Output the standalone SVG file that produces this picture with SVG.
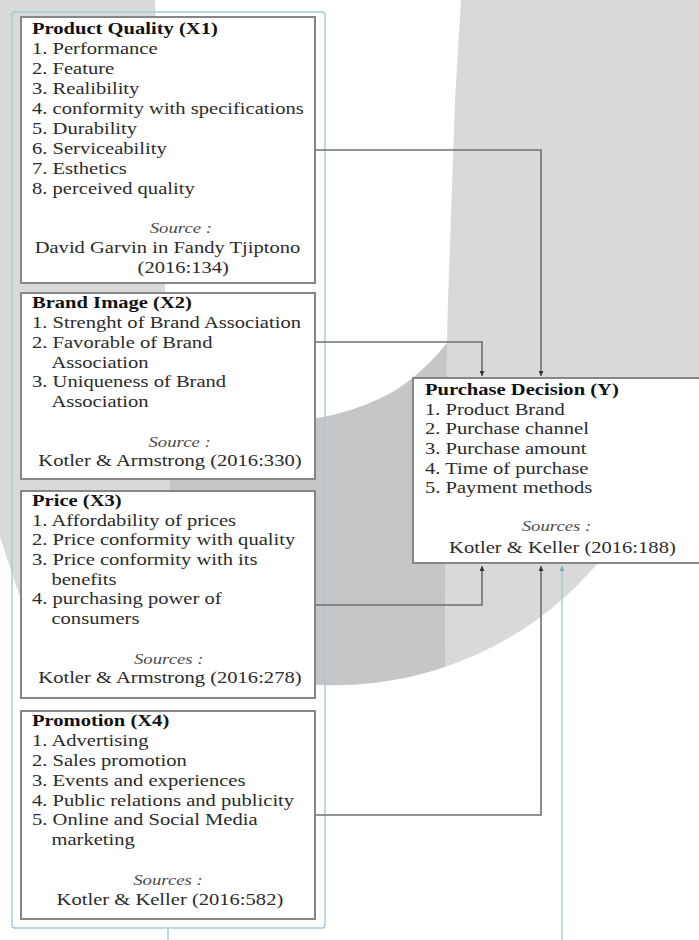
<svg xmlns="http://www.w3.org/2000/svg" width="699" height="940" viewBox="0 0 699 940">
<style>
.t{font-family:"Liberation Serif","Times New Roman",serif;font-size:17px;fill:#2b2b2b}
.h{font-weight:bold;fill:#111}
.s{font-style:italic;font-size:15.5px;fill:#4a4a4a;text-anchor:middle}
.c{text-anchor:middle}
.box{fill:#fff;stroke:#868686;stroke-width:2}
.conn{fill:none;stroke:#707070;stroke-width:1.6}
.blue{fill:none;stroke:#a4cbd5;stroke-width:1.4}
</style>
<defs>
<marker id="arr" viewBox="0 0 6 6" refX="6" refY="3" markerWidth="5" markerHeight="5" markerUnits="userSpaceOnUse" orient="auto">
<path d="M0,0 L6,3 L0,6 Z" fill="#333"/>
</marker>
<marker id="arrb" viewBox="0 0 6 6" refX="6" refY="3" markerWidth="5" markerHeight="5" markerUnits="userSpaceOnUse" orient="auto">
<path d="M0,0 L6,3 L0,6 Z" fill="#6fb0ae"/>
</marker>
</defs>
<rect width="699" height="940" fill="#fff"/>
<g id="watermark">
<path d="M0,0 H155 L165,290 L170,480 L170,680 L20,597 L0,537 Z" fill="#d9d9d9"/>
<path d="M461,0 H699 V563 H598 A350,350 0 0 1 445,667 L447,343 L448,300 L455,100 Z" fill="#d9d9d9"/>
<path d="M170,425 L317,418 Q350,413 383,397 T447,343 L445,667 A350,350 0 0 1 170,645 Z" fill="#c5c6c8"/>
</g>
<rect id="container" x="12" y="12" width="313" height="916" rx="3" class="blue"/>
<g id="connectors">
<path class="conn" d="M315,150 H541 V376" marker-end="url(#arr)"/>
<path class="conn" d="M315,342 H482 V376" marker-end="url(#arr)"/>
<path class="conn" d="M315,605 H482 V566" marker-end="url(#arr)"/>
<path class="conn" d="M315,815 H541 V566" marker-end="url(#arr)"/>
<path class="blue" d="M562,940 V566" marker-end="url(#arrb)"/>
<path class="blue" d="M168,928 V940"/>
</g>
<g id="x1">
<rect class="box" x="21" y="17" width="294" height="266"/>
<g transform="translate(32,0) scale(1.21,1)">
<text class="t h" x="0" y="34.5">Product Quality (X1)</text>
<text class="t" x="0" y="54.4">1. Performance</text>
<text class="t" x="0" y="74.3">2. Feature</text>
<text class="t" x="0" y="94.2">3. Realibility</text>
<text class="t" x="0" y="114.1">4. conformity with specifications</text>
<text class="t" x="0" y="134">5. Durability</text>
<text class="t" x="0" y="153.9">6. Serviceability</text>
<text class="t" x="0" y="173.8">7. Esthetics</text>
<text class="t" x="0" y="193.7">8. perceived quality</text>
<text class="t s" x="123" y="233.5">Source :</text>
<text class="t c" x="112" y="253.4">David Garvin in Fandy Tjiptono</text>
<text class="t c" x="125" y="273.3">(2016:134)</text>
</g>
</g>
<g id="x2">
<rect class="box" x="21" y="293" width="294" height="186"/>
<g transform="translate(32,0) scale(1.21,1)">
<text class="t h" x="0" y="308.5">Brand Image (X2)</text>
<text class="t" x="0" y="328.2">1. Strenght of Brand Association</text>
<text class="t" x="0" y="348">2. Favorable of Brand</text>
<text class="t" x="16.1" y="367.7">Association</text>
<text class="t" x="0" y="387.5">3. Uniqueness of Brand</text>
<text class="t" x="16.1" y="407.2">Association</text>
<text class="t s" x="122" y="446.7">Source :</text>
<text class="t c" x="114" y="466.5">Kotler &amp; Armstrong (2016:330)</text>
</g>
</g>
<g id="x3">
<rect class="box" x="21" y="491" width="294" height="207"/>
<g transform="translate(32,0) scale(1.21,1)">
<text class="t h" x="0" y="506">Price (X3)</text>
<text class="t" x="0" y="525.7">1. Affordability of prices</text>
<text class="t" x="0" y="545.4">2. Price conformity with quality</text>
<text class="t" x="0" y="565.1">3. Price conformity with its</text>
<text class="t" x="16.1" y="584.8">benefits</text>
<text class="t" x="0" y="604.5">4. purchasing power of</text>
<text class="t" x="16.1" y="624.2">consumers</text>
<text class="t s" x="113" y="663.6">Sources :</text>
<text class="t c" x="114" y="683.3">Kotler &amp; Armstrong (2016:278)</text>
</g>
</g>
<g id="x4">
<rect class="box" x="21" y="711" width="294" height="208"/>
<g transform="translate(32,0) scale(1.21,1)">
<text class="t h" x="0" y="726.5">Promotion (X4)</text>
<text class="t" x="0" y="746.3">1. Advertising</text>
<text class="t" x="0" y="766.1">2. Sales promotion</text>
<text class="t" x="0" y="785.9">3. Events and experiences</text>
<text class="t" x="0" y="805.7">4. Public relations and publicity</text>
<text class="t" x="0" y="825.5">5. Online and Social Media</text>
<text class="t" x="16.1" y="845.3">marketing</text>
<text class="t s" x="112.4" y="884.9">Sources :</text>
<text class="t c" x="114" y="904.7">Kotler &amp; Keller (2016:582)</text>
</g>
</g>
<g id="y">
<rect class="box" x="413" y="378" width="292" height="185"/>
<g transform="translate(425,0) scale(1.21,1)">
<text class="t h" x="0" y="395">Purchase Decision (Y)</text>
<text class="t" x="0" y="414.7">1. Product Brand</text>
<text class="t" x="0" y="434.4">2. Purchase channel</text>
<text class="t" x="0" y="454.1">3. Purchase amount</text>
<text class="t" x="0" y="473.8">4. Time of purchase</text>
<text class="t" x="0" y="493.5">5. Payment methods</text>
<text class="t s" x="108.7" y="531">Sources :</text>
<text class="t c" x="113.6" y="552.6">Kotler &amp; Keller (2016:188)</text>
</g>
</g>
</svg>
